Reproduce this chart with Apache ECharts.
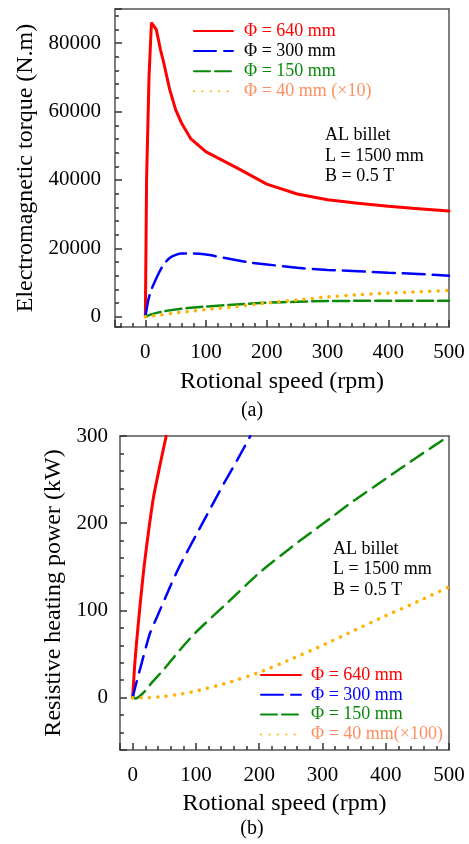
<!DOCTYPE html>
<html>
<head>
<meta charset="utf-8">
<title>Torque and heating power</title>
<style>
html,body{margin:0;padding:0;background:#fff;}
#main{width:469px;height:844px;}
</style>
</head>
<body>
<div id="main"></div>
<script src="https://cdn.jsdelivr.net/npm/echarts@6/dist/echarts.min.js"></script>
<script>
// (a) electromagnetic torque (N.m) vs rotational speed (rpm)
var speedA640 = [0, 2, 6, 10, 18, 25, 30, 40, 50, 60, 75, 100, 150, 200, 250, 300, 350, 400, 450, 500];
var torque640 = [0, 40000, 70000, 86000, 84000, 78000, 74500, 66500, 60500, 56500, 52000, 48200, 43600, 38800, 35900, 34200, 33200, 32300, 31600, 30900];
var speedA300 = [0, 5, 10, 15, 20, 30, 40, 50, 60, 80, 100, 140, 170, 200, 250, 300, 350, 400, 450, 500];
var torque300 = [0, 5000, 8000, 10000, 12000, 15300, 17200, 18100, 18500, 18500, 18200, 16900, 15900, 15300, 14300, 13700, 13300, 12900, 12500, 12000];
var speedA150 = [0, 10, 20, 30, 50, 70, 100, 150, 200, 250, 300, 350, 400, 450, 500];
var torque150 = [0, 700, 1200, 1600, 2100, 2550, 3000, 3600, 4100, 4400, 4600, 4650, 4700, 4700, 4700];
var speedA40 = [0, 25, 50, 75, 100, 150, 200, 250, 300, 350, 400, 450, 500];
var torque40 = [0, 550, 1100, 1600, 2100, 3000, 4000, 4900, 5800, 6400, 6900, 7300, 7700];

// (b) resistive heating power (kW) vs rotational speed (rpm)
var speedB640 = [0, 3, 6, 12, 18, 25, 33, 43, 53];
var power640 = [0, 35, 62, 108, 150, 190, 230, 266, 300];
var speedB300 = [0, 4, 14, 27, 40, 59, 75, 100, 117, 143, 165, 186];
var power300 = [0, 12, 39, 73, 95, 127, 152, 186, 209, 244, 272, 300];
var speedB150 = [0, 5, 10, 20, 30, 50, 75, 100, 150, 200, 250, 300, 350, 400, 450, 500];
var power150 = [0, -1, 1, 8, 17, 33, 55, 75, 109, 143, 172, 199, 226, 251, 276, 300];
var speedB40 = [0, 25, 50, 75, 100, 150, 200, 250, 300, 350, 400, 450, 500];
var power40 = [0, 0, 1.5, 4, 7.5, 17, 29, 44, 60, 77, 94, 110, 127];

var namesA = ['Φ = 640 mm', 'Φ = 300 mm', 'Φ = 150 mm', 'Φ = 40 mm (×10)'];
var namesB = ['Φ = 640 mm', 'Φ = 300 mm', 'Φ = 150 mm', 'Φ = 40 mm(×100)'];

function pairs(xs, ys) {
    var out = [];
    for (var i = 0; i < xs.length; i++) out.push([xs[i], ys[i]]);
    return out;
}

var serif = 'Liberation Serif';
var frame = '#555';
var red = '#ff0000', blue = '#0000ff', green = '#0a8a0a', gold = '#ffb300', salmon = '#ff8f63';

function plain(v) { return String(v); }

var majorTick = {show: true, inside: true, length: 7, lineStyle: {color: '#333', width: 1.5}};
var minorTick = {show: true, splitNumber: 5, length: 4, lineStyle: {color: '#333', width: 1.5}};

function xAxisOf(grid, min, gap) {
    return {
        gridIndex: grid, type: 'value', min: min, max: 500,
        axisLine: {show: true, onZero: false, lineStyle: {color: frame, width: 1.5}},
        axisTick: majorTick, minorTick: minorTick,
        splitLine: {show: false},
        axisLabel: {showMinLabel: false, formatter: plain, fontFamily: serif, fontSize: 21, color: '#000', margin: 15},
        name: 'Rotional speed (rpm)', nameLocation: 'middle', nameGap: gap,
        nameTextStyle: {fontFamily: serif, fontSize: 24, color: '#000'}
    };
}
function yAxisOf(grid, min, max, title, gap, margin) {
    return {
        gridIndex: grid, type: 'value', min: min, max: max, splitNumber: 5,
        axisLine: {show: true, onZero: false, lineStyle: {color: frame, width: 1.5}},
        axisTick: majorTick, minorTick: minorTick,
        splitLine: {show: false},
        axisLabel: {showMinLabel: false, showMaxLabel: grid === 1, formatter: plain, fontFamily: serif, fontSize: 21, color: '#000', margin: margin},
        name: title, nameLocation: 'middle', nameGap: gap,
        nameTextStyle: {fontFamily: serif, fontSize: 24, color: '#000'}
    };
}
// plain top / right edges of the box
function edgeAxis(grid, pos, min, max) {
    return {
        gridIndex: grid, type: 'value', position: pos, min: min, max: max,
        axisLine: {show: true, onZero: false, lineStyle: {color: frame, width: 1.5}},
        axisTick: {show: false}, minorTick: {show: false}, axisLabel: {show: false}, splitLine: {show: false}
    };
}
function line(name, grid, data, color, width, dash, smooth) {
    return {
        name: name, type: 'line', xAxisIndex: grid, yAxisIndex: grid,
        data: data, symbol: 'none', silent: true, smooth: smooth,
        lineStyle: {color: color, width: width, type: dash, cap: 'round'},
        itemStyle: {color: color}
    };
}

var chart = echarts.init(document.getElementById('main'));
chart.setOption({
    animation: false,
    grid: [
        {left: 115, top: 9, width: 334, height: 318},
        {left: 120, top: 436, width: 329, height: 314}
    ],
    xAxis: [xAxisOf(0, -50, 43), xAxisOf(1, -20, 42), edgeAxis(0, 'top', -50, 500), edgeAxis(1, 'top', -20, 500)],
    yAxis: [
        yAxisOf(0, -3000, 90000, 'Electromagnetic torque (N.m)', 66, 14),
        yAxisOf(1, -60, 300, 'Resistive heating power (kW)', 47, 12),
        edgeAxis(0, 'right', -3000, 90000),
        edgeAxis(1, 'right', -60, 300)
    ],
    legend: [
        {
            orient: 'vertical', left: 193, top: 22, padding: 0, itemWidth: 39, itemHeight: 14, itemGap: 2.1,
            selectedMode: false,
            itemStyle: {opacity: 0},
            textStyle: {fontFamily: serif, fontSize: 18, padding: [0, 0, 0, 6]},
            data: [
                {name: namesA[0], textStyle: {color: red}},
                {name: namesA[1], textStyle: {color: '#000'}},
                {name: namesA[2], textStyle: {color: green}},
                {name: namesA[3], textStyle: {color: salmon}}
            ]
        },
        {
            orient: 'vertical', left: 260, top: 666, padding: 0, itemWidth: 40, itemHeight: 14, itemGap: 1.8,
            selectedMode: false,
            itemStyle: {opacity: 0},
            textStyle: {fontFamily: serif, fontSize: 18, padding: [0, 0, 0, 5]},
            data: [
                {name: namesB[0], textStyle: {color: red}},
                {name: namesB[1], textStyle: {color: blue}},
                {name: namesB[2], textStyle: {color: green}},
                {name: namesB[3], textStyle: {color: salmon}}
            ]
        }
    ],
    graphic: [
        {type: 'text', left: 325, top: 125, style: {text: 'AL billet\nL = 1500 mm\nB = 0.5 T', font: '18px "Liberation Serif"', lineHeight: 20.7, fill: '#000'}},
        {type: 'text', left: 333, top: 539, style: {text: 'AL billet\nL = 1500 mm\nB = 0.5 T', font: '18px "Liberation Serif"', lineHeight: 20.5, fill: '#000'}},
        {type: 'text', x: 252, y: 411, style: {text: '(a)', font: '20px "Liberation Serif"', fill: '#000', align: 'center', verticalAlign: 'middle'}},
        {type: 'text', x: 252, y: 829, style: {text: '(b)', font: '20px "Liberation Serif"', fill: '#000', align: 'center', verticalAlign: 'middle'}}
    ],
    series: [
        line(namesA[0], 0, pairs(speedA640, torque640), red, 3, 'solid', false),
        line(namesA[1], 0, pairs(speedA300, torque300), blue, 2.5, [22, 8], 0.2),
        line(namesA[2], 0, pairs(speedA150, torque150), green, 2.5, [16, 5], 0.2),
        line(namesA[3], 0, pairs(speedA40, torque40), gold, 3.5, [0.1, 8.3], 0.2),
        line(namesB[0], 1, pairs(speedB640, power640), red, 3, 'solid', 0.2),
        line(namesB[1], 1, pairs(speedB300, power300), blue, 2.5, [17, 9], 0.2),
        line(namesB[2], 1, pairs(speedB150, power150), green, 2.5, [15, 8], 0.2),
        line(namesB[3], 1, pairs(speedB40, power40), gold, 3.5, [0.1, 8.3], 0.2)
    ]
});
</script>
</body>
</html>
